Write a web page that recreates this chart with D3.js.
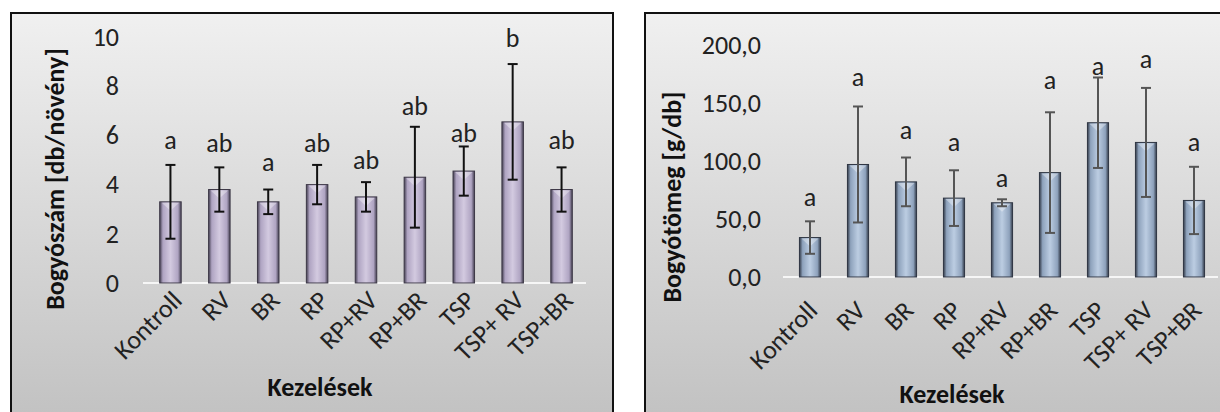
<!DOCTYPE html>
<html><head><meta charset="utf-8">
<script src="https://cdn.jsdelivr.net/npm/d3@7"></script>
<style>body{margin:0;background:#fff}svg{display:block}text{font-family:Carlito,Lato,"Open Sans",sans-serif}</style>
</head><body><svg id="c" width="1220" height="412"></svg>
<script>
const categories = ["Kontroll","RV","BR","RP","RP+RV","RP+BR","TSP","TSP+ RV","TSP+BR"];
// Chart 1: Bogyószám
const countValues = [3.3, 3.8, 3.3, 4.0, 3.5, 4.3, 4.55, 6.55, 3.8];
const countErrors = [1.5, 0.9, 0.5, 0.8, 0.6, 2.05, 1.0, 2.35, 0.9];
const countLetters = ["a","ab","a","ab","ab","ab","ab","b","ab"];
const countLetterY = [5.8, 5.7, 4.9, 5.7, 5.0, 7.2, 6.1, 9.95, 5.8];
const countTicks = [0,2,4,6,8,10];
// Chart 2: Bogyótömeg
const massValues = [34, 97, 82, 68, 64, 90, 133, 116, 66];
const massErrors = [14, 50, 21, 24, 3, 52, 39, 47, 29];
const massLetters = ["a","a","a","a","a","a","a","a","a"];
const massLetterY = [69, 172, 127, 116, 85, 170, 182, 188, 116];
const massTicks = [0,50,100,150,200];
const massTickLabels = ["0,0","50,0","100,0","150,0","200,0"];

const svg = d3.select("#c");
const defs = svg.append("defs");
function bgGrad(id){
  const g = defs.append("linearGradient").attr("id",id).attr("x1",0).attr("y1",0).attr("x2",0).attr("y2",1);
  g.append("stop").attr("offset","0%").attr("stop-color","#f0f0f0");
  g.append("stop").attr("offset","100%").attr("stop-color","#c0c0c0");
}
bgGrad("bg");
function barGrad(id, edge, mid, light){
  const g = defs.append("linearGradient").attr("id",id).attr("x1",0).attr("y1",0).attr("x2",1).attr("y2",0);
  [[0,edge],[0.15,mid],[0.5,light],[0.85,mid],[1,edge]].forEach(s=>
    g.append("stop").attr("offset",s[0]).attr("stop-color",s[1]));
}
barGrad("barP","#433e50","#afa4c2","#d3cae0");
barGrad("barB","#323a48","#8ea2bc","#bccde2");

function panel(o){
  const g = svg.append("g");
  g.append("rect").attr("x",o.px).attr("y",o.py).attr("width",o.pw).attr("height",o.ph)
    .attr("fill","url(#bg)").attr("stroke","#111").attr("stroke-width",2);
  const x = d3.scaleBand().domain(categories).range([o.x0,o.x1]).paddingInner(0.56).paddingOuter(0.28);
  const y = d3.scaleLinear().domain(o.domain).range([o.y0,o.y1]);
  g.append("line").attr("x1",o.x0-3).attr("x2",o.x1).attr("y1",y(0)).attr("y2",y(0))
    .attr("stroke","#f6f6f6").attr("stroke-width",2);
  const ya = d3.axisLeft(y).tickValues(o.ticks).tickSize(0).tickPadding(0).tickFormat((d,i)=>o.tickLabels[i]);
  const yg = g.append("g").attr("transform",`translate(${o.tickRight},0)`).call(ya);
  yg.select(".domain").remove();
  yg.attr("font-size",null).attr("font-family",null);
  yg.selectAll("text").attr("font-size",26).attr("fill","#222");
  g.selectAll(".bar").data(categories).enter().append("rect")
    .attr("x",d=>x(d)).attr("width",x.bandwidth())
    .attr("y",(d,i)=>y(o.values[i])).attr("height",(d,i)=>y(0)-y(o.values[i]))
    .attr("fill",o.fill).attr("stroke",o.barStroke).attr("stroke-width",1);
  g.selectAll(".bev").data(categories).enter().append("path")
    .attr("d",(d,i)=>{const bx=x(d),bw=x.bandwidth(),by=y(o.values[i]);
      return `M${bx+2},${by+1}L${bx+bw-2},${by+1}L${bx+bw/2},${by+9}Z`;})
    .attr("fill","#ffffff").attr("opacity",0.35);
  const cap = 5;
  const eg = g.selectAll(".err").data(categories).enter().append("g");
  eg.append("line").attr("x1",d=>x(d)+x.bandwidth()/2).attr("x2",d=>x(d)+x.bandwidth()/2)
    .attr("y1",(d,i)=>y(o.values[i]+o.errors[i])).attr("y2",(d,i)=>y(o.values[i]-o.errors[i]))
    .attr("stroke",o.errColor).attr("stroke-width",2);
  [1,-1].forEach(s=>{
    eg.append("line").attr("x1",d=>x(d)+x.bandwidth()/2-cap).attr("x2",d=>x(d)+x.bandwidth()/2+cap)
      .attr("y1",(d,i)=>y(o.values[i]+s*o.errors[i])).attr("y2",(d,i)=>y(o.values[i]+s*o.errors[i]))
      .attr("stroke",o.errColor).attr("stroke-width",2);
  });
  g.selectAll(".let").data(categories).enter().append("text")
    .attr("x",d=>x(d)+x.bandwidth()/2).attr("y",(d,i)=>y(o.letterY[i]))
    .attr("text-anchor","middle").attr("dominant-baseline","central")
    .attr("font-size",26).attr("fill","#222").text((d,i)=>o.letters[i]);
  g.selectAll(".xl").data(categories).enter().append("text")
    .attr("transform",d=>`translate(${x(d)+x.bandwidth()/2+o.xlDx},${y(0)+o.xlOff}) rotate(-45)`)
    .attr("text-anchor","end").attr("font-size",26).attr("fill","#222").text(d=>d);
  g.append("text").attr("transform",`translate(${o.ytx},${o.yty}) rotate(-90)`)
    .attr("text-anchor","middle").attr("dominant-baseline","central")
    .attr("font-size",26).attr("font-weight","bold").attr("fill","#111").text(o.yTitle);
  g.append("text").attr("x",o.xtx).attr("y",o.xty).attr("text-anchor","middle").attr("dominant-baseline","central")
    .attr("font-size",26).attr("font-weight","bold").attr("fill","#111").text("Kezelések");
}

panel({px:11,py:13,pw:602,ph:420,x0:146,x1:586,y0:283,y1:37,domain:[0,10],
  ticks:countTicks,tickLabels:countTicks.map(String),tickRight:119,
  values:countValues,errors:countErrors,letters:countLetters,letterY:countLetterY,
  fill:"url(#barP)",barStroke:"#3d3847",errColor:"#111",xlOff:19,xlDx:13,
  ytx:55,yty:179,yTitle:"Bogyószám [db/növény]",xtx:320,xty:387});
panel({px:645,py:13,pw:600,ph:420,x0:786,x1:1218,y0:277,y1:45,domain:[0,200],
  ticks:massTicks,tickLabels:massTickLabels,tickRight:761,
  values:massValues,errors:massErrors,letters:massLetters,letterY:massLetterY,
  fill:"url(#barB)",barStroke:"#2e3542",errColor:"#555",xlOff:35,xlDx:9,
  ytx:672,yty:197,yTitle:"Bogyótömeg [g/db]",xtx:952,xty:394});
</script></body></html>
